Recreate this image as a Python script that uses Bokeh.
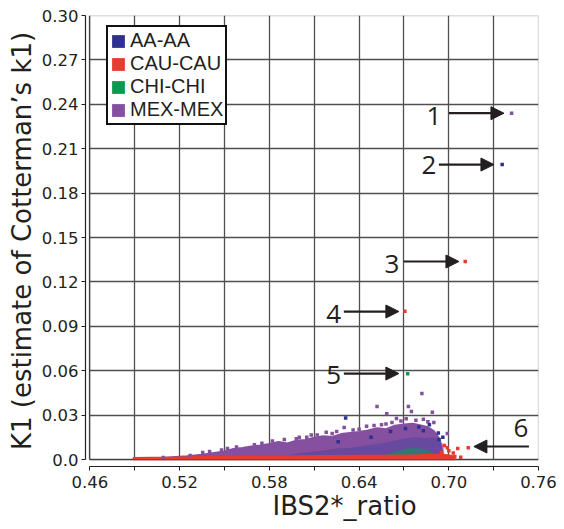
from bokeh.plotting import figure
from bokeh.models import (Range1d, FixedTicker, Legend, LegendItem, Label, Arrow,
                          NormalHead, BoxAnnotation, Title)
from bokeh.embed import file_html
from bokeh.resources import INLINE

# ---------------- data ----------------
x_ticks = [0.46, 0.52, 0.58, 0.64, 0.70, 0.76]
x_tick_labels = ["0.46", "0.52", "0.58", "0.64", "0.70", "0.76"]
x_minor_ticks = [0.49, 0.55, 0.61, 0.67, 0.73]
y_ticks = [0.0, 0.03, 0.06, 0.09, 0.12, 0.15, 0.18, 0.21, 0.24, 0.27, 0.30]
y_tick_labels = ["0.0", "0.03", "0.06", "0.09", "0.12", "0.15", "0.18", "0.21", "0.24", "0.27", "0.30"]

groups = ["AA-AA", "CAU-CAU", "CHI-CHI", "MEX-MEX"]
colors = {"AA-AA": "#2e3192", "CAU-CAU": "#e63b2e", "CHI-CHI": "#0c9a50", "MEX-MEX": "#84509f"}

# dense parts of the point cloud (outline of each group's crowded region)
mex_cloud_x = [0.505, 0.515, 0.525, 0.535, 0.543, 0.550, 0.556, 0.562, 0.568, 0.574, 0.580, 0.586,
               0.592, 0.598, 0.604, 0.610, 0.616, 0.622, 0.628, 0.634, 0.640, 0.646, 0.652, 0.658,
               0.664, 0.670, 0.676, 0.682, 0.686, 0.690, 0.693, 0.695, 0.696, 0.696, 0.505]
mex_cloud_y = [0.0008, 0.0015, 0.0022, 0.0032, 0.0045, 0.0055, 0.0072, 0.0078, 0.0088, 0.0095, 0.0105, 0.0118,
               0.0108, 0.0128, 0.0132, 0.0148, 0.0158, 0.0152, 0.0172, 0.0180, 0.0186, 0.0196, 0.0212, 0.0205,
               0.0228, 0.0236, 0.0242, 0.0228, 0.0218, 0.0192, 0.0150, 0.0090, 0.0030, 0.0005, 0.0005]
aa_cloud_x = [0.585, 0.595, 0.605, 0.615, 0.625, 0.635, 0.645, 0.655, 0.663, 0.670, 0.677, 0.684,
              0.690, 0.695, 0.697, 0.697, 0.585]
aa_cloud_y = [0.0010, 0.0035, 0.0050, 0.0060, 0.0075, 0.0080, 0.0095, 0.0110, 0.0125, 0.0140, 0.0150, 0.0145,
              0.0150, 0.0125, 0.0080, 0.0010, 0.0010]
chi_cloud_x = [0.652, 0.660, 0.667, 0.674, 0.681, 0.687, 0.691, 0.690, 0.652]
chi_cloud_y = [0.0010, 0.0040, 0.0062, 0.0078, 0.0074, 0.0060, 0.0035, 0.0010, 0.0010]
cau_cloud_x = [0.489, 0.500, 0.520, 0.540, 0.560, 0.580, 0.600, 0.620, 0.640, 0.660, 0.680, 0.694,
               0.700, 0.704, 0.704, 0.489]
cau_cloud_y = [0.0012, 0.0014, 0.0016, 0.0020, 0.0020, 0.0022, 0.0024, 0.0026, 0.0028, 0.0028, 0.0030, 0.0034,
               0.0030, 0.0020, 0.0000, 0.0000]

# individual (sparse / outlying) pairs
mex_x = [0.742, 0.682, 0.652, 0.6585, 0.673, 0.675, 0.665, 0.689, 0.690, 0.630, 0.699, 0.622,
         0.5354, 0.509, 0.548, 0.558, 0.575, 0.590, 0.605, 0.640, 0.645, 0.668, 0.678, 0.686,
         0.612, 0.598, 0.527, 0.618, 0.636, 0.655, 0.662, 0.600, 0.608, 0.625, 0.650, 0.658,
         0.6715, 0.683, 0.570, 0.582, 0.552, 0.540]
mex_y = [0.234, 0.0446, 0.0358, 0.0310, 0.0358, 0.0324, 0.0277, 0.0320, 0.0250, 0.0216, 0.0176, 0.0176,
         0.0047, 0.0014, 0.0065, 0.0085, 0.0110, 0.0135, 0.0150, 0.0205, 0.0225, 0.0260, 0.0265, 0.0255,
         0.0165, 0.0140, 0.0028, 0.0185, 0.0200, 0.0235, 0.0250, 0.0150, 0.0165, 0.0190, 0.0230, 0.0240,
         0.0275, 0.0272, 0.0100, 0.0125, 0.0075, 0.0055]
aa_x = [0.7357, 0.631, 0.6935, 0.696, 0.693, 0.661, 0.671, 0.648, 0.626, 0.683, 0.680, 0.687]
aa_y = [0.1993, 0.0280, 0.0135, 0.0150, 0.0180, 0.0190, 0.0210, 0.0150, 0.0120, 0.0195, 0.0220, 0.0235]
cau_x = [0.711, 0.6706, 0.713, 0.700, 0.703, 0.706, 0.704, 0.708, 0.697, 0.699, 0.702, 0.695]
cau_y = [0.1338, 0.1002, 0.0080, 0.0060, 0.0045, 0.0074, 0.0020, 0.0015, 0.0095, 0.0080, 0.0010, 0.0050]
chi_x = [0.6725]
chi_y = [0.0579]

# numbered call-outs: label, label position, arrow start/end
callout_text = ["1", "2", "3", "4", "5", "6"]
callout_x = [0.690, 0.6867, 0.6619, 0.623, 0.623, 0.7483]
callout_y = [0.2318, 0.1993, 0.1324, 0.0986, 0.0568, 0.0216]
arrow_x0 = [0.7001, 0.6934, 0.6699, 0.6298, 0.6298, 0.7536]
arrow_x1 = [0.7369, 0.7302, 0.7068, 0.6666, 0.6666, 0.7168]
arrow_y = [0.2340, 0.1993, 0.1338, 0.1000, 0.0581, 0.0088]

# ---------------- figure ----------------
p = figure(width=564, height=529, output_backend="svg", toolbar_location=None,
           x_range=Range1d(0.457, 0.76), y_range=Range1d(-0.0047, 0.30),
           min_border_left=85, min_border_right=26, min_border_top=15, min_border_bottom=63)
p.outline_line_color = None
p.background_fill_color = "white"
p.border_fill_color = "white"

grid_col = "#4f4f4f"
p.xaxis.ticker = FixedTicker(ticks=x_ticks, minor_ticks=x_minor_ticks)
p.yaxis.ticker = FixedTicker(ticks=y_ticks)
p.xaxis.major_label_overrides = dict(zip(x_ticks, x_tick_labels))
p.yaxis.major_label_overrides = dict(zip(y_ticks, y_tick_labels))
p.xaxis.bounds = (x_ticks[0], x_ticks[-1])
p.yaxis.bounds = (y_ticks[0], y_ticks[-1])
for ax in (p.xaxis, p.yaxis):
    ax.major_label_text_font = "DejaVu Sans"
    ax.major_label_text_font_size = "16.5px"
    ax.major_label_text_color = "#231f20"
    ax.axis_line_color = "#231f20"
    ax.axis_line_width = 1.2
    ax.major_tick_line_color = "#231f20"
    ax.minor_tick_line_color = "#231f20"
    ax.major_tick_in = 0
    ax.major_tick_out = 4
    ax.minor_tick_in = 0
    ax.minor_tick_out = 4
p.xaxis.major_label_standoff = 5
p.yaxis.major_label_standoff = 3

p.yaxis.axis_label = "K1 (estimate of Cotterman\u2019s k1)"
p.yaxis.axis_label_text_font = "DejaVu Sans"
p.yaxis.axis_label_text_font_size = "26px"
p.yaxis.axis_label_text_font_style = "normal"
p.yaxis.axis_label_text_color = "#231f20"
p.yaxis.axis_label_standoff = 2

p.add_layout(Title(text="IBS2*_ratio", align="left", offset=187, standoff=0, vertical_align="top",
                   text_font="DejaVu Sans", text_font_size="26px", text_font_style="normal",
                   text_color="#231f20"), "below")

p.xgrid.grid_line_color = grid_col
p.xgrid.minor_grid_line_color = grid_col
p.ygrid.grid_line_color = grid_col
p.xgrid.grid_line_width = 1.3
p.xgrid.minor_grid_line_width = 1.3
p.ygrid.grid_line_width = 1.3
try:
    p.xgrid.cross_bounds = (y_ticks[0], y_ticks[-1])
    p.ygrid.cross_bounds = (x_ticks[0], x_ticks[-1])
except Exception:
    pass

# plot box
p.add_layout(BoxAnnotation(left=x_ticks[0], right=x_ticks[-1], bottom=y_ticks[0], top=y_ticks[-1],
                           fill_alpha=0, line_color="#231f20", line_width=1.3))

# dense clouds
p.patch(mex_cloud_x, mex_cloud_y, fill_color=colors["MEX-MEX"], line_color=colors["MEX-MEX"], line_width=2)
p.patch(aa_cloud_x, aa_cloud_y, fill_color="#3b3ea0", fill_alpha=0.4, line_color=None)
p.patch(chi_cloud_x, chi_cloud_y, fill_color=colors["CHI-CHI"], fill_alpha=0.55, line_color=None)
p.patch(cau_cloud_x, cau_cloud_y, fill_color=colors["CAU-CAU"], line_color=colors["CAU-CAU"], line_width=1.5)

# sparse points (small squares)
sq = dict(width=3.5, height=3.5, width_units="screen", height_units="screen", line_color=None)
r_mex = p.rect(mex_x, mex_y, fill_color=colors["MEX-MEX"], **sq)
r_aa = p.rect(aa_x, aa_y, fill_color=colors["AA-AA"], **sq)
r_cau = p.rect(cau_x, cau_y, fill_color=colors["CAU-CAU"], **sq)
r_chi = p.rect(chi_x, chi_y, fill_color=colors["CHI-CHI"], **sq)

# call-outs
for t, lx, ly, x0, x1, ay in zip(callout_text, callout_x, callout_y, arrow_x0, arrow_x1, arrow_y):
    p.add_layout(Label(x=lx, y=ly, text=t, text_align="center", text_baseline="middle",
                       text_font="Open Sans", text_font_size="26px", text_color="#231f20"))
    p.add_layout(Arrow(x_start=x0, y_start=ay, x_end=x1, y_end=ay, line_width=2.2, line_color="#231f20",
                       end=NormalHead(size=13, fill_color="#231f20", line_color="#231f20")))

legend = Legend(items=[LegendItem(label=g, renderers=[r]) for g, r in
                       zip(groups, [r_aa, r_cau, r_chi, r_mex])],
                location=(21, 341), label_text_font="Liberation Sans", label_text_font_size="20px",
                label_text_line_height=0.95,
                label_text_color="#231f20", glyph_width=16, glyph_height=16, label_standoff=4,
                label_height=18, spacing=0, padding=2, margin=0,
                border_line_color="#111111", border_line_alpha=1.0, border_line_width=2.5,
                background_fill_alpha=1)
p.add_layout(legend)

open("out.html", "w").write(file_html(p, INLINE))
